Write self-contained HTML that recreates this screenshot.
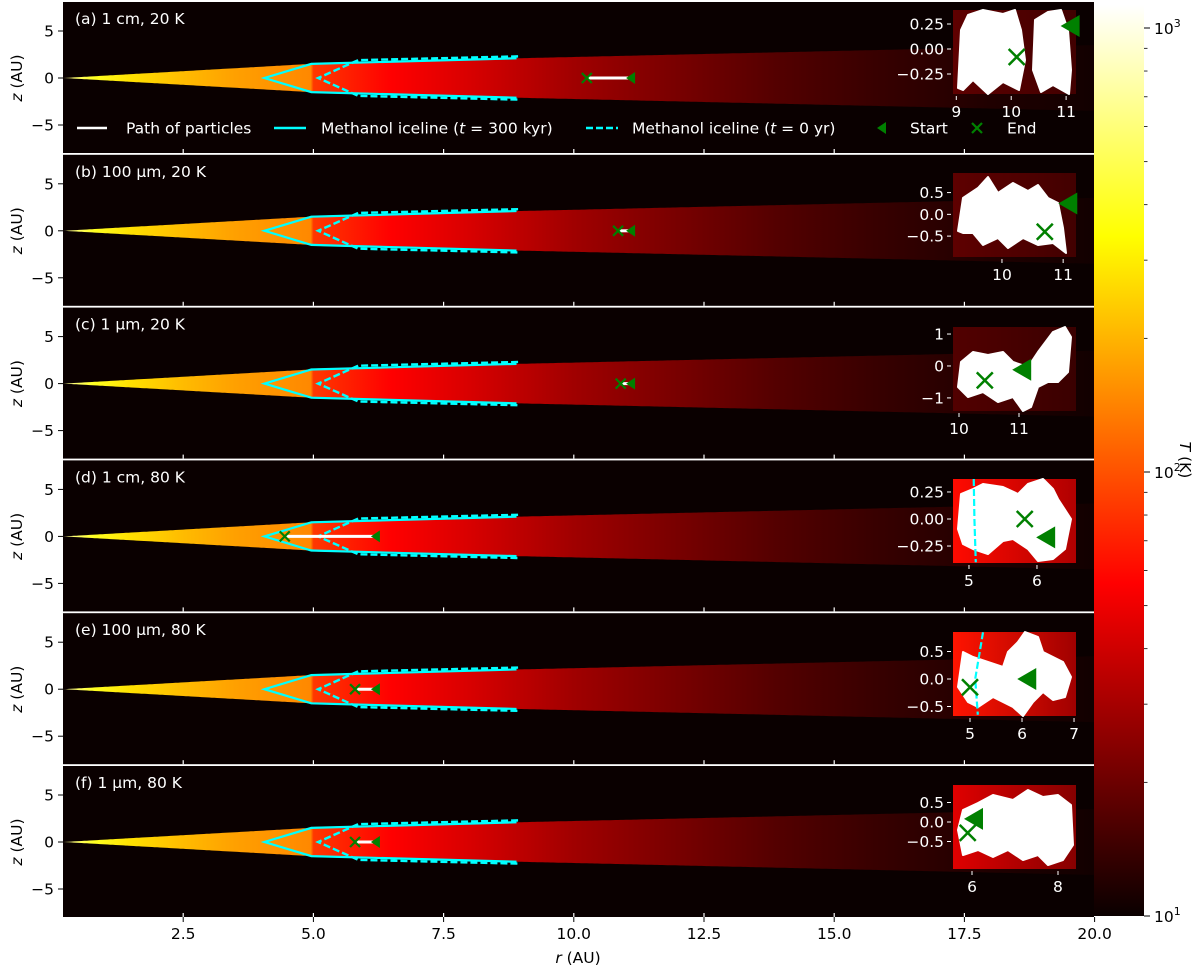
<!DOCTYPE html>
<html><head><meta charset="utf-8">
<style>
html,body{margin:0;padding:0;background:#fff;}
svg{display:block;font-family:"DejaVu Sans","Liberation Sans",sans-serif;}
</style></head>
<body>
<svg id="fig" width="1200" height="969" viewBox="0 0 1200 969" xmlns="http://www.w3.org/2000/svg">
<defs>
<linearGradient id="tgrad" gradientUnits="userSpaceOnUse" x1="63" y1="0" x2="1094" y2="0">
</linearGradient>
<linearGradient id="cbgrad" x1="0" y1="1" x2="0" y2="0">
<stop offset="0" stop-color="#0a0000"/><stop offset="0.365" stop-color="#ff0000"/>
<stop offset="0.746" stop-color="#ffff00"/><stop offset="1" stop-color="#ffffff"/>
</linearGradient>
<clipPath id="axclip"><rect x="63" y="0" width="1031" height="969"/></clipPath>
</defs>
</svg>
<script>
// ---------- data ----------
const panelLabels = ["(a) 1 cm, 20 K","(b) 100 µm, 20 K","(c) 1 µm, 20 K","(d) 1 cm, 80 K","(e) 100 µm, 80 K","(f) 1 µm, 80 K"];
const startR = [11.1, 11.1, 11.1, 6.2, 6.2, 6.2];
const endR = [10.25, 10.85, 10.9, 4.45, 5.8, 5.8];
const iceSolidR = [8.9, 4.96, 4.06, 4.96, 8.9];
const iceSolidZ = [2.1, 1.5, 0, -1.5, -2.1];
const iceDashR = [8.93, 5.86, 5.09, 5.86, 8.93];
const iceDashZ = [2.3, 1.9, 0, -1.9, -2.3];
const xTicks = [2.5, 5.0, 7.5, 10.0, 12.5, 15.0, 17.5, 20.0];
const zTicks = [5, 0, -5];
const tempStopR = [0.2, 0.8, 1.5, 2.5, 3.5, 4.95, 5.0, 6.5, 8, 10, 12, 14, 16, 18, 20];
const tempStopC = ["#ffffa0","#ffff20","#ffe000","#ffbb00","#ffa000","#ff8800","#ff3800","#ff0000","#d80000","#a00000","#780000","#520000","#350000","#200000","#120000"];
// insets
const insetXMin = [8.94, 9.2, 9.9, 4.765, 4.673, 5.558];
const insetXMax = [11.18, 11.21, 11.95, 6.574, 7.038, 8.419];
const insetZMax = [0.39, 0.95, 1.22, 0.37, 0.855, 0.949];
const insetZMin = [-0.45, -0.98, -1.41, -0.407, -0.673, -1.205];
const insetXTicks = [[9,10,11],[10,11],[10,11],[5,6],[5,6,7],[6,8]];
const insetZTicks = [[0.25,0,-0.25],[0.5,0,-0.5],[1,0,-1],[0.25,0,-0.25],[0.5,0,-0.5],[0.5,0,-0.5]];
const insetZTickLabels = [["0.25","0.00","−0.25"],["0.5","0.0","−0.5"],["1","0","−1"],["0.25","0.00","−0.25"],["0.5","0.0","−0.5"],["0.5","0.0","−0.5"]];
const insetStartR = [11.1, 11.1, 11.07, 6.15, 6.12, 6.07];
const insetStartZ = [0.23, 0.25, -0.12, -0.17, 0.0, 0.08];
const insetEndR = [10.1, 10.7, 10.43, 5.82, 5.0, 5.9];
const insetEndZ = [-0.08, -0.4, -0.45, 0.0, -0.15, -0.28];
const insetBgL = ["#5e0000","#5e0000","#520000","#ff0a00","#ff1400","#e00000"];
const insetBgR = ["#420000","#420000","#3a0000","#b00000","#a00000","#860000"];
const insetIceR = [null, null, null, [5.07,5.08,5.1], [5.25,5.1,5.15], null];
const insetIceZ = [null, null, null, [0.37,0,-0.4], [0.85,0,-0.65], null];
const cbMajor = [1, 2, 3];
const cbMajorLabels = ["1","2","3"];

// ---------- geometry ----------
const NS = "http://www.w3.org/2000/svg";
const svg = document.getElementById("fig");
const FS = 15.5;
const X = r => 53 + r * 52.08;
const CY = i => 78 + i * 152.8;
const Y = (i, z) => CY(i) - z * 9.4;
const h = r => r < 4.95 ? Math.max(0, 1.5 * (r - 0.2) / 4.75) : 1.6 + 0.127 * (r - 5);
const INS = {x0: 953, x1: 1076};
const insetTop = [10, 173, 327, 479, 632, 785];
const INSH = 84;
function mk(tag, attrs, parent) {
  const e = document.createElementNS(NS, tag);
  for (const k in attrs) e.setAttribute(k, attrs[k]);
  (parent || svg).appendChild(e);
  return e;
}
const tg = document.getElementById("tgrad");
tempStopR.forEach((r, k) => {
  mk("stop", {offset: ((X(r) - 63) / (1094 - 63)).toFixed(4), "stop-color": tempStopC[k]}, tg);
});
for (let i = 0; i < 6; i++) {
  const g = mk("linearGradient", {id: "ig" + i, x1: 0, y1: 0, x2: 1, y2: 0}, svg.querySelector("defs"));
  mk("stop", {offset: 0, "stop-color": insetBgL[i]}, g);
  mk("stop", {offset: 1, "stop-color": insetBgR[i]}, g);
}

const blobs = [
  [[[5,78],[8,20],[15,5],[30,0],[50,4],[62,0],[68,20],[72,50],[66,80],[50,72],[35,84],[20,70],[10,80]],
   [[80,60],[82,10],[95,2],[108,0],[115,20],[118,60],[116,84],[100,75],[88,82]]],
  [[[5,58],[10,25],[25,15],[35,4],[45,20],[60,10],[75,18],[85,12],[95,25],[105,30],[110,55],[113,80],[100,70],[85,72],[70,65],[55,75],[45,65],[30,72],[20,60],[10,60]]],
  [[[5,60],[8,35],[20,25],[35,28],[50,25],[60,35],[75,40],[85,25],[100,5],[112,0],[118,10],[115,45],[105,55],[95,55],[85,60],[78,80],[70,85],[60,70],[45,75],[30,65],[15,70]]],
  [[[5,50],[8,15],[20,10],[30,5],[50,8],[65,15],[75,5],[90,0],[100,10],[105,20],[118,40],[112,70],[100,80],[85,82],[75,70],[60,60],[50,62],[35,75],[20,70],[10,65]]],
  [[[5,55],[10,20],[20,25],[35,30],[50,35],[55,20],[65,10],[72,0],[85,5],[90,20],[100,25],[110,30],[118,45],[112,65],[100,68],[90,60],[80,70],[70,84],[60,75],[50,70],[40,65],[25,75],[15,70]]],
  [[[5,45],[10,25],[25,18],[40,10],[60,15],[75,5],[90,12],[105,10],[118,20],[120,60],[110,75],[95,80],[85,70],[70,75],[55,65],[40,72],[25,65],[10,70]]]
];

for (let i = 0; i < 6; i++) {
  const top = CY(i) - 76, bot = CY(i) + 75;
  const g = mk("g", {});
  
  
  const bg = mk("rect", {x: 63, y: top, width: 1031, height: bot - top, fill: "#0a0000"}, g);
  
  
  let pts = [];
  for (let r = 0.2; r <= 20.001; r += 0.05) pts.push(X(r).toFixed(1) + "," + Y(i, h(r)).toFixed(1));
  for (let r = 20; r >= 0.199; r -= 0.05) pts.push(X(r).toFixed(1) + "," + Y(i, -h(r)).toFixed(1));
  const disk = mk("polygon", {points: pts.join(" "), fill: "url(#tgrad)", "clip-path": "url(#axclip)"}, g);
  
  
  const sp = iceSolidR.map((r, k) => X(r) + "," + Y(i, iceSolidZ[k])).join(" ");
  const s = mk("polyline", {points: sp, fill: "none", stroke: "#00ffff", "stroke-width": 2.2}, g);
  
  
  const dp = iceDashR.map((r, k) => X(r) + "," + Y(i, iceDashZ[k])).join(" ");
  const d = mk("polyline", {points: dp, fill: "none", stroke: "#00ffff", "stroke-width": 2.4, "stroke-dasharray": "7,3"}, g);
  
  
  const pl = mk("line", {x1: X(endR[i]), y1: CY(i), x2: X(startR[i]), y2: CY(i), stroke: "#fff", "stroke-width": 3}, g);
  
  
  const sx = X(startR[i]), cy = CY(i);
  const st = mk("polygon", {points: `${sx-5},${cy} ${sx+4},${cy-6} ${sx+4},${cy+6}`, fill: "#008000"}, g);
  
  
  const ex = X(endR[i]);
  const en = mk("path", {d: `M${ex-5},${cy-5}L${ex+5},${cy+5}M${ex-5},${cy+5}L${ex+5},${cy-5}`, stroke: "#008000", "stroke-width": 2.2}, g);
  
  
  const lab = mk("text", {x: 75, y: top + 22, fill: "#fff", "font-size": FS}, g);
  lab.textContent = panelLabels[i];
  
  
  zTicks.forEach(z => {
    mk("line", {x1: 58, x2: 63, y1: Y(i, z), y2: Y(i, z), stroke: "#000", "stroke-width": 1}, g);
    const t = mk("text", {x: 54, y: Y(i, z) + 5.5, "text-anchor": "end", "font-size": FS, fill: "#000"}, g);
    t.textContent = z < 0 ? "−" + Math.abs(z) : String(z);
    
    
  });
  const zl = mk("text", {x: 0, y: 0, "font-size": FS, fill: "#000", "text-anchor": "middle", transform: `translate(22,${CY(i)}) rotate(-90)`}, g);
  zl.innerHTML = '<tspan font-style="italic">z</tspan> (AU)';
  
  
  xTicks.forEach(r => {
    mk("line", {x1: X(r), x2: X(r), y1: bot - 4, y2: bot, stroke: "#fff", "stroke-width": 1.2}, g);
  });

  const it = insetTop[i];
  const ig = mk("g", {}, g);
  
  
  const IX = r => INS.x0 + (r - insetXMin[i]) / (insetXMax[i] - insetXMin[i]) * (INS.x1 - INS.x0);
  const IY = z => it + (insetZMax[i] - z) / (insetZMax[i] - insetZMin[i]) * INSH;
  mk("rect", {x: INS.x0, y: it, width: INS.x1 - INS.x0, height: INSH, fill: `url(#ig${i})`}, ig);
  blobs[i].forEach(b => {
    const bp = mk("polygon", {points: b.map(p => (INS.x0 + p[0]).toFixed(1) + "," + (it + Math.min(INSH, p[1])).toFixed(1)).join(" "), fill: "#fff", stroke: "#fff", "stroke-width": 2, "stroke-linejoin": "round"}, ig);
    
    
  });
  if (insetIceR[i]) {
    const ip = insetIceR[i].map((r, k) => IX(r) + "," + IY(insetIceZ[i][k])).join(" ");
    const il = mk("polyline", {points: ip, fill: "none", stroke: "#00ffff", "stroke-width": 2.2, "stroke-dasharray": "7,3"}, ig);
    
    
  }
  const isx = IX(insetStartR[i]), isy = IY(insetStartZ[i]);
  const ist = mk("polygon", {points: `${isx-11},${isy} ${isx+8},${isy-11} ${isx+8},${isy+11}`, fill: "#008000"}, ig);
  
  
  const iex = IX(insetEndR[i]), iey = IY(insetEndZ[i]);
  const ien = mk("path", {d: `M${iex-8},${iey-8}L${iex+8},${iey+8}M${iex-8},${iey+8}L${iex+8},${iey-8}`, stroke: "#008000", "stroke-width": 2.5}, ig);
  
  
  insetZTicks[i].forEach((z, k) => {
    mk("line", {x1: INS.x0 - 6, x2: INS.x0 - 2, y1: IY(z), y2: IY(z), stroke: "#fff", "stroke-width": 1}, ig);
    const t = mk("text", {x: INS.x0 - 9, y: IY(z) + 5.5, "text-anchor": "end", "font-size": FS, fill: "#fff"}, ig);
    t.textContent = insetZTickLabels[i][k];
    
    
  });
  insetXTicks[i].forEach(r => {
    mk("line", {x1: IX(r), x2: IX(r), y1: it + INSH + 2, y2: it + INSH + 6, stroke: "#fff", "stroke-width": 1}, ig);
    const t = mk("text", {x: IX(r), y: it + INSH + 23, "text-anchor": "middle", "font-size": FS, fill: "#fff"}, ig);
    t.textContent = String(r);
    
    
  });
}

const bottom = CY(5) + 75;
xTicks.forEach(r => {
  mk("line", {x1: X(r), x2: X(r), y1: bottom, y2: bottom + 5, stroke: "#000", "stroke-width": 1});
  const t = mk("text", {x: X(r), y: bottom + 22, "text-anchor": "middle", "font-size": FS, fill: "#000"});
  t.textContent = r.toFixed(1);
  
  
});
const xt = mk("text", {x: 578, y: bottom + 46, "text-anchor": "middle", "font-size": FS, fill: "#000"});
xt.innerHTML = '<tspan font-style="italic">r</tspan> (AU)';



const LY = 128;
const lg = mk("g", {});


mk("line", {x1: 77, x2: 107, y1: LY, y2: LY, stroke: "#fff", "stroke-width": 2.5}, lg);
let lt = mk("text", {x: 126, y: LY + 5.5, fill: "#fff", "font-size": FS}, lg);
lt.textContent = "Path of particles";


mk("line", {x1: 274, x2: 306, y1: LY, y2: LY, stroke: "#00ffff", "stroke-width": 2.5}, lg);
lt = mk("text", {x: 321, y: LY + 5.5, fill: "#fff", "font-size": FS}, lg);
lt.innerHTML = 'Methanol iceline (<tspan font-style="italic">t</tspan> = 300 kyr)';


mk("line", {x1: 586, x2: 618, y1: LY, y2: LY, stroke: "#00ffff", "stroke-width": 2.5, "stroke-dasharray": "7,3"}, lg);
lt = mk("text", {x: 632, y: LY + 5.5, fill: "#fff", "font-size": FS}, lg);
lt.innerHTML = 'Methanol iceline (<tspan font-style="italic">t</tspan> = 0 yr)';


mk("polygon", {points: `877,${LY} 886,${LY-6} 886,${LY+6}`, fill: "#008000"}, lg);
lt = mk("text", {x: 910, y: LY + 5.5, fill: "#fff", "font-size": FS}, lg);
lt.textContent = "Start";


mk("path", {d: `M972,${LY-5}L982,${LY+5}M972,${LY+5}L982,${LY-5}`, stroke: "#008000", "stroke-width": 2.2}, lg);
lt = mk("text", {x: 1007, y: LY + 5.5, fill: "#fff", "font-size": FS}, lg);
lt.textContent = "End";



const CBX = 1094, CBW = 50, CBT = 5, CBB = 916;
const CY_T = lg10 => CBB - (lg10 - 1) * 444;
const cbg = mk("g", {});


mk("rect", {x: CBX, y: CBT, width: CBW, height: CBB - CBT, fill: "url(#cbgrad)"}, cbg);
cbMajor.forEach((m, k) => {
  const y = CY_T(m);
  mk("line", {x1: CBX + CBW, x2: CBX + CBW + 6, y1: y, y2: y, stroke: "#000", "stroke-width": 1}, cbg);
  const t = mk("text", {x: CBX + CBW + 10, y: y + 6, "font-size": FS, fill: "#000"}, cbg);
  t.innerHTML = '10<tspan dy="-7" font-size="11">' + cbMajorLabels[k] + '</tspan>';
  
  
});
for (let dcd = 1; dcd <= 3; dcd++) {
  for (let k = 2; k <= 9; k++) {
    const y = CY_T(dcd + Math.log10(k));
    if (y < CBT) continue;
    mk("line", {x1: CBX + CBW, x2: CBX + CBW + 3.5, y1: y, y2: y, stroke: "#000", "stroke-width": 0.8}, cbg);
  }
}
const cbt = mk("text", {x: 0, y: 0, "font-size": FS, fill: "#000", "text-anchor": "middle", transform: "translate(1180,460) rotate(90)"}, cbg);
cbt.innerHTML = '<tspan font-style="italic">T</tspan> (K)';


</script>
</body></html>
